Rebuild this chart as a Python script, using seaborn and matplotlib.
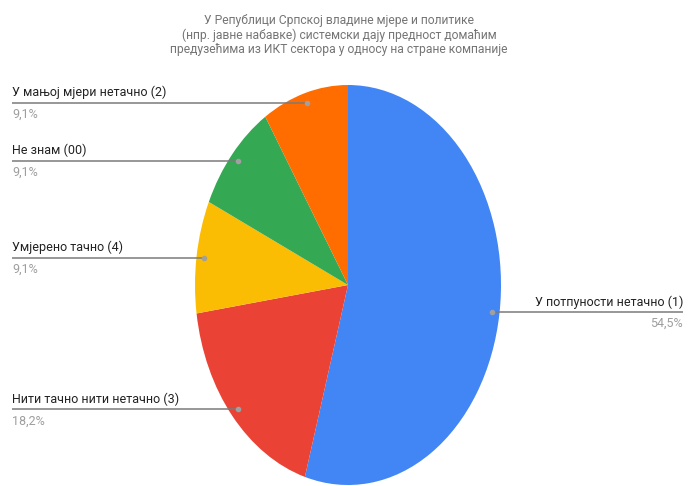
import numpy as np
import matplotlib
matplotlib.use("Agg")
import matplotlib.pyplot as plt
import matplotlib.transforms as mtransforms
import seaborn as sns

title = ("У Републици Српској владине мјере и политике\n"
         "(нпр. јавне набавке) системски дају предност домаћим\n"
         "предузећима из ИКТ сектора у односу на стране компаније")
categories = ["У потпуности нетачно (1)", "Нити тачно нити нетачно (3)",
              "Умјерено тачно (4)", "Не знам (00)", "У мањој мјери нетачно (2)"]
values = [6, 2, 1, 1, 1]
colors = ["#4285F4", "#EA4335", "#FBBC04", "#34A853", "#FF6D01"]

sns.set_theme(style="white")
plt.rcParams['font.family'] = ['Roboto', 'DejaVu Sans']

W, H = 690, 486
fig = plt.figure(figsize=(W / 100, H / 100), dpi=100)
# pie ellipse: center (348,285), rx 153, ry 200 (pixels, y from top)
cx, cy, rx, ry = 348, 285, 153, 200
ax = fig.add_axes([(cx - rx) / W, 1 - (cy + ry) / H, 2 * rx / W, 2 * ry / H])

wedges, _ = ax.pie(values, colors=colors, startangle=90, counterclock=False,
                   wedgeprops=dict(linewidth=0))
ax.set_aspect('auto')
ax.set_xlim(-1, 1)
ax.set_ylim(-1, 1)
ax.axis('off')

fig.text(339 / W, 1 - 35 / H, title, ha='center', va='center', fontsize=8.7,
         color='#757575', linespacing=1.08)

total = sum(values)
blend = mtransforms.blended_transform_factory(fig.transFigure, ax.transData)
for w, cat, v in zip(wedges, categories, values):
    mid = np.deg2rad((w.theta1 + w.theta2) / 2)
    dx, dy = 0.95 * np.cos(mid), 0.95 * np.sin(mid)
    pct = f"{100 * v / total:.1f}%".replace('.', ',')
    if dx > 0:
        x_end = 683 / W
        ha = 'right'
    else:
        x_end = 12 / W
        ha = 'left'
    xd_fig = fig.transFigure.inverted().transform(ax.transData.transform((dx, dy)))[0]
    ax.plot([x_end, xd_fig], [dy, dy], transform=blend, color='#7a7a7a',
            linewidth=1.1, clip_on=False, solid_capstyle='butt')
    ax.plot([dx], [dy], 'o', color='#a0a0a0', markersize=3, clip_on=False)
    ax.annotate(cat, xy=(x_end, dy), xycoords=blend, xytext=(0, 2.5),
                textcoords='offset points', ha=ha, va='bottom', fontsize=9,
                color='#222222')
    ax.annotate(pct, xy=(x_end, dy), xycoords=blend, xytext=(0, -3.5),
                textcoords='offset points', ha=ha, va='top', fontsize=9,
                color='#9e9e9e')

fig.savefig("out.png", dpi=100, facecolor='white')
